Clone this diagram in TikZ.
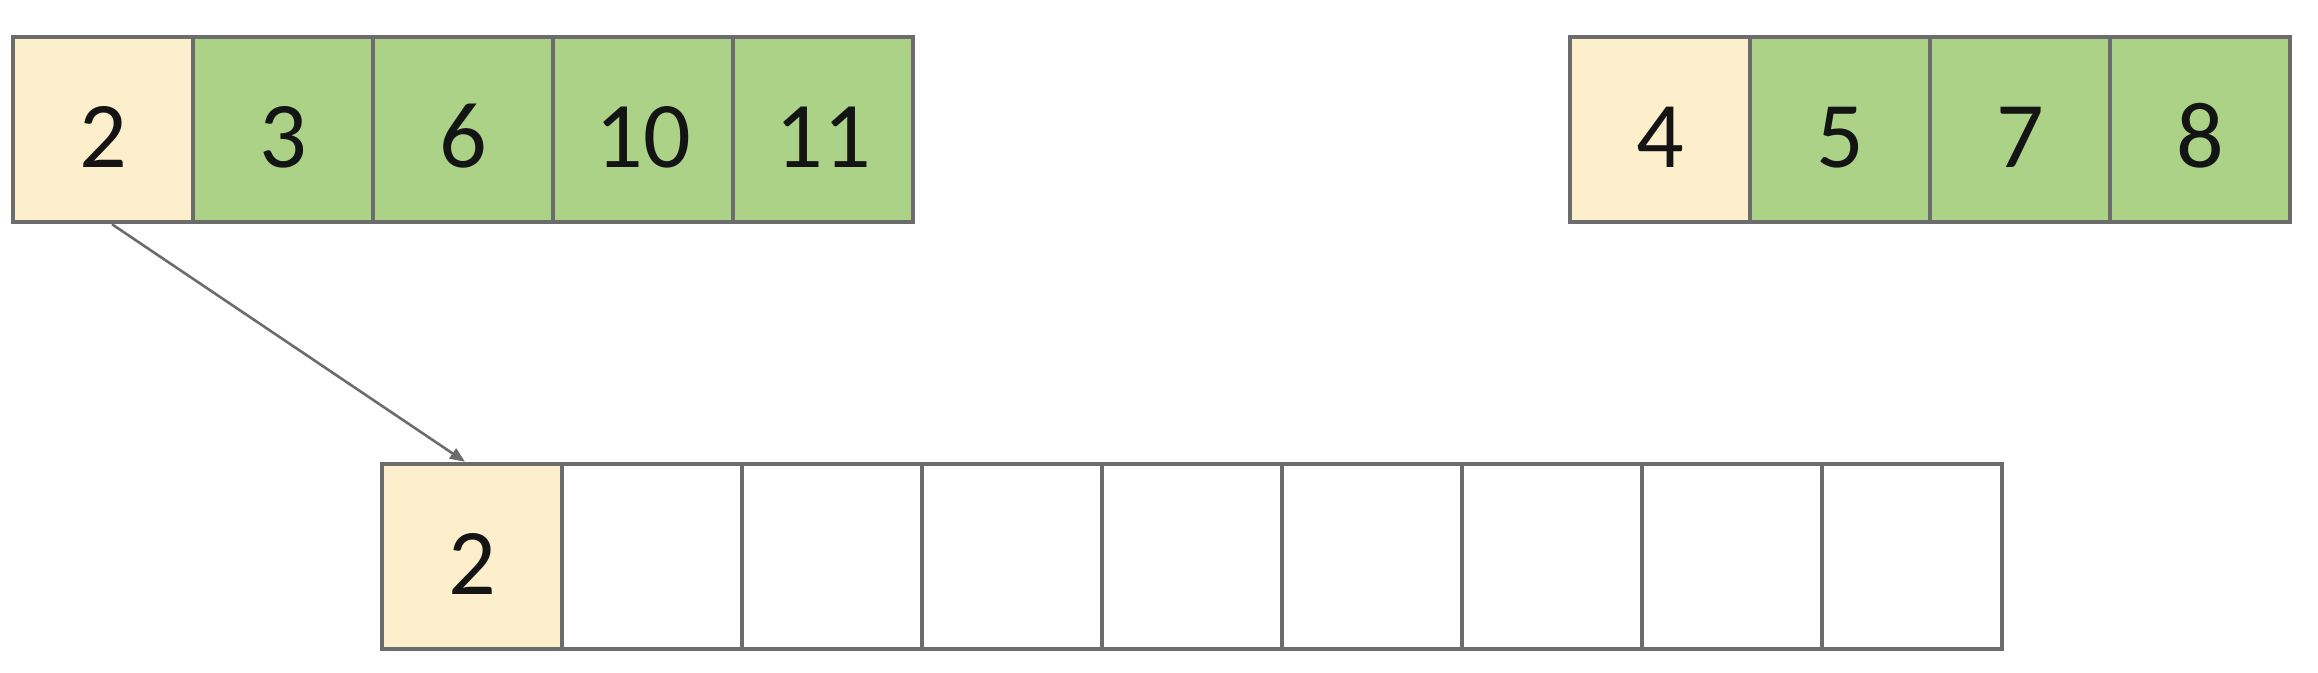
\documentclass[tikz,border=0pt]{standalone}
\usepackage{fontspec}
\setmainfont{Carlito}
\usetikzlibrary{arrows.meta}
\definecolor{cream}{RGB}{253,239,203}
\definecolor{lgreen}{RGB}{171,210,134}
\definecolor{bordergray}{RGB}{108,108,108}
\definecolor{txt}{RGB}{20,20,20}
\tikzset{
  cell/.style={draw=bordergray, line width=4.5pt, minimum width=180pt, minimum height=185pt,
    inner sep=0pt, text=txt, font=\fontsize{94}{94}\selectfont,
    text height=75pt, text depth=0pt},
  firstcell/.style={cell, fill=cream},
  greencell/.style={cell, fill=lgreen},
  emptycell/.style={cell, fill=white},
  link/.style={draw=bordergray, line width=2.6pt, -{Triangle[length=15pt,width=12pt]}}
}
\begin{document}
\begin{tikzpicture}[x=1pt,y=-1pt]
\useasboundingbox (0,0) rectangle (2318,672);
% top-left row
\node[firstcell] (a0) at (103,129.5) {2};
\node[greencell] (a1) at (283,129.5) {3};
\node[greencell] (a2) at (463,129.5) {6};
\node[greencell] (a3) at (643,129.5) {10};
\node[greencell] (a4) at (823,129.5) {11};
% top-right row
\node[firstcell] (b0) at (1660,129.5) {4};
\node[greencell] (b1) at (1840,129.5) {5};
\node[greencell] (b2) at (2020,129.5) {7};
\node[greencell] (b3) at (2200,129.5) {8};
% bottom row
\node[firstcell] (c0) at (472,556.5) {2};
\foreach \i in {1,...,8} {
  \node[emptycell] (c\i) at (472+180*\i,556.5) {};
}
% arrow
\draw[link] ([xshift=9pt]a0.south) -- ([xshift=-7pt]c0.north);
\end{tikzpicture}
\end{document}
